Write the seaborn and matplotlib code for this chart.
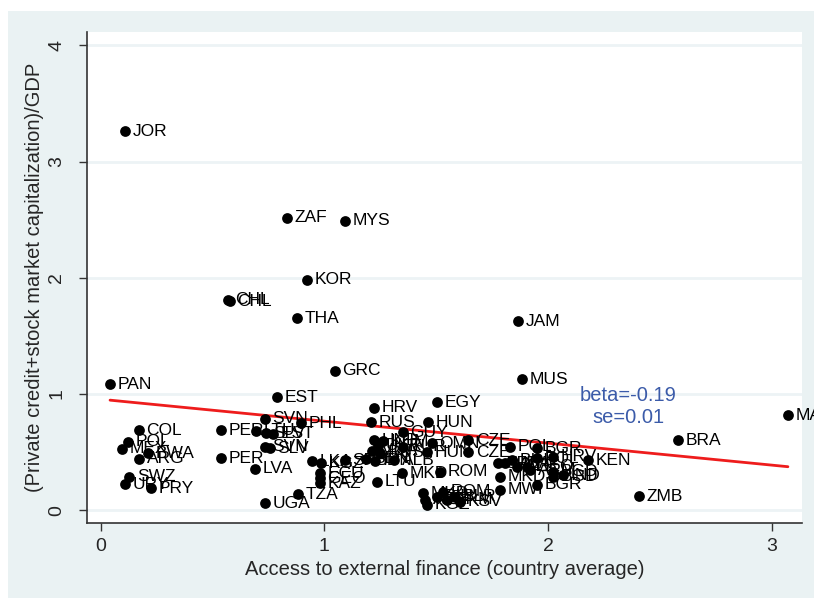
import numpy as np
import pandas as pd
import matplotlib
matplotlib.use("Agg")
import matplotlib.pyplot as plt
from matplotlib.patches import Rectangle
import seaborn as sns

# ---- data ----
countries = ["JOR", "ZAF", "MYS", "KOR", "CHL", "CHL", "THA", "JAM", "GRC", "MUS",
             "PAN", "EST", "EGY", "HRV", "RUS", "HUN", "GUY", "SVN", "PHL", "MAR",
             "BRA", "ZMB", "COL", "PER", "PER", "LTU", "SLV", "EST", "SVN", "SLV",
             "LVA", "UGA", "TZA", "POL", "MEX", "BWA", "ARG", "SWZ", "URY", "PRY",
             "LKA", "KGZ", "ECU", "GEO", "KAZ", "HND", "KHM", "UKR", "MDA", "RUS",
             "SEN", "IDN", "ALB", "SRB", "TUR", "OMN", "HUN", "CZE", "CZE", "MKD",
             "LTU", "ROM", "ROM", "MKD", "AZE", "KGZ", "BIH", "ARM", "BLR", "KSV",
             "POL", "BGR", "HRV", "POL", "SRB", "MDA", "BIH", "ALB", "GEO", "ARM",
             "BGD", "IND", "KEN", "MKD", "BGD", "MWI", "BGR"]
access = [0.109, 0.833, 1.092, 0.922, 0.569, 0.578, 0.878, 1.865, 1.047, 1.883,
          0.042, 0.788, 1.503, 1.222, 1.208, 1.463, 1.351, 0.734, 0.895, 3.072,
          2.581, 2.406, 0.171, 0.538, 0.538, 0.694, 0.739, 0.770, 0.734, 0.757,
          0.690, 0.734, 0.882, 0.122, 0.095, 0.211, 0.171, 0.127, 0.109, 0.225,
          0.945, 0.985, 0.980, 0.980, 0.980, 1.222, 1.262, 1.240, 1.213, 1.249,
          1.186, 1.226, 1.311, 1.092, 1.351, 1.481, 1.459, 1.642, 1.642, 1.347,
          1.235, 1.517, 1.530, 1.441, 1.450, 1.459, 1.503, 1.548, 1.584, 1.607,
          1.830, 1.950, 2.022, 1.950, 1.776, 1.808, 1.839, 1.862, 1.906, 1.919,
          2.022, 2.067, 2.178, 1.786, 2.022, 1.786, 1.950]
finance_gdp = [3.263, 2.515, 2.489, 1.981, 1.809, 1.800, 1.654, 1.628, 1.198, 1.129,
               1.086, 0.974, 0.931, 0.880, 0.759, 0.759, 0.673, 0.785, 0.750, 0.819,
               0.604, 0.122, 0.690, 0.690, 0.449, 0.682, 0.664, 0.656, 0.544, 0.535,
               0.355, 0.062, 0.139, 0.587, 0.527, 0.492, 0.441, 0.286, 0.225, 0.191,
               0.423, 0.406, 0.320, 0.277, 0.234, 0.603, 0.595, 0.553, 0.510, 0.493,
               0.441, 0.424, 0.432, 0.432, 0.544, 0.578, 0.500, 0.603, 0.500, 0.320,
               0.243, 0.329, 0.157, 0.148, 0.088, 0.045, 0.114, 0.088, 0.114, 0.071,
               0.544, 0.535, 0.458, 0.449, 0.406, 0.406, 0.432, 0.372, 0.372, 0.346,
               0.329, 0.303, 0.432, 0.286, 0.286, 0.174, 0.217]
fit_intercept = 0.955
fit_slope = -0.189
beta_text = "beta=-0.19"
se_text = "se=0.01"
x_ticks = [0, 1, 2, 3]
y_ticks = [0, 1, 2, 3, 4]
x_label = "Access to external finance (country average)"
y_label = "(Private credit+stock market capitalization)/GDP"

df = pd.DataFrame({"country": countries, "access": access, "fin": finance_gdp})
xs = np.array([df["access"].min(), df["access"].max()])
fit_df = pd.DataFrame({"access": xs, "fin": fit_intercept + fit_slope * xs})

# ---- styling ----
sns.set_style("white")
plt.rcParams["font.family"] = ["Liberation Sans", "DejaVu Sans"]
BG = "#EAF2F3"
W, H = 814, 598

fig = plt.figure(figsize=(W / 100, H / 100), dpi=100, facecolor="white")
fig.patches.append(Rectangle((8 / W, 0), 1, (H - 11) / H, transform=fig.transFigure,
                             facecolor=BG, edgecolor="none", zorder=-10))
ax = fig.add_axes([87 / W, (H - 523) / H, (802 - 87) / W, (523 - 32) / H])
ax.set_facecolor("white")

ax.set_xlim(-0.061, 3.135)
ax.set_ylim(-0.11, 4.115)
for yv in y_ticks:
    ax.axhline(yv, color="#EDF3F5", lw=2, zorder=0)

sns.scatterplot(data=df, x="access", y="fin", ax=ax, color="black", s=60,
                linewidth=0, zorder=3, legend=False)
sns.lineplot(data=fit_df, x="access", y="fin", ax=ax, color="#EE1C1C", lw=2, zorder=2)

for _, r in df.iterrows():
    ax.annotate(r["country"], (r["access"], r["fin"]), xytext=(5.5, 0),
                textcoords="offset points", va="center", ha="left",
                fontsize=12.5, color="black", zorder=4, clip_on=False)

ax.text(2.36, 0.985, beta_text, color="#3B5BA9", fontsize=14.5, ha="center", va="center")
ax.text(2.36, 0.795, se_text, color="#3B5BA9", fontsize=14.5, ha="center", va="center")

for s in ["top", "right"]:
    ax.spines[s].set_visible(False)
for s in ["left", "bottom"]:
    ax.spines[s].set_color("#333333")
    ax.spines[s].set_linewidth(1.2)

ax.set_xticks(x_ticks)
ax.set_yticks(y_ticks)
ax.set_xticklabels([str(t) for t in x_ticks], fontsize=14)
ax.set_yticklabels([str(t) for t in y_ticks], fontsize=14, rotation=90, va="center")
ax.tick_params(axis="both", direction="out", length=5.5, width=1, color="#333333",
               left=True, bottom=True)
ax.tick_params(axis="x", pad=5)
ax.tick_params(axis="y", pad=10)
ax.set_xlabel(x_label, fontsize=14.5, labelpad=4)
ax.set_ylabel(y_label, fontsize=14.5, labelpad=3)

fig.savefig("out.png", dpi=100, facecolor="white")
